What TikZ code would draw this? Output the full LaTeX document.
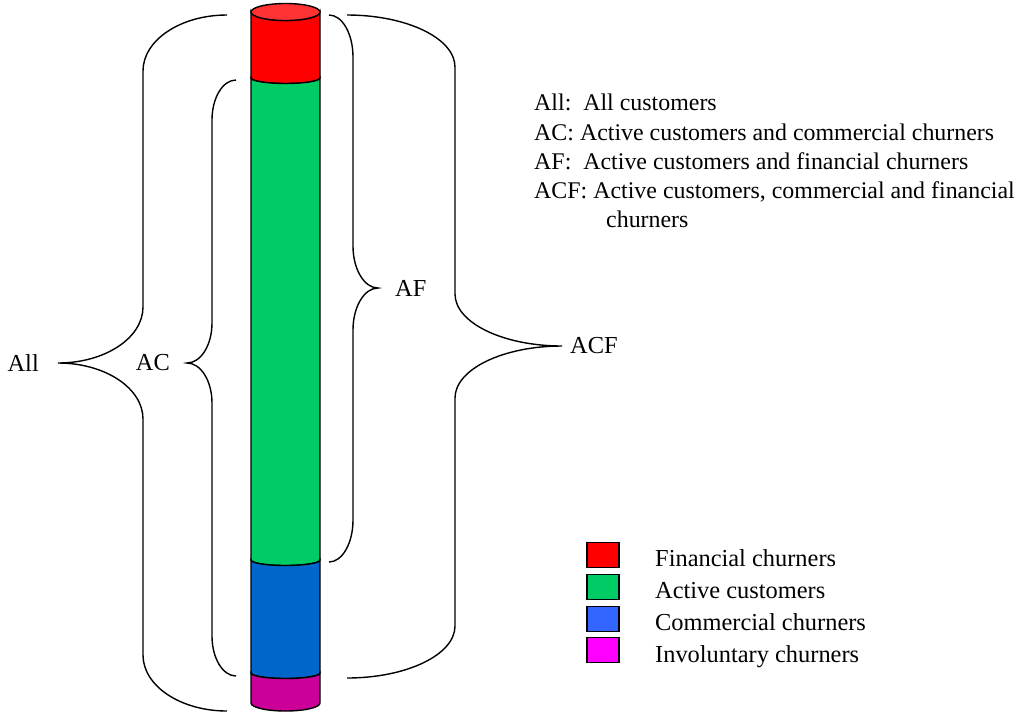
\documentclass[tikz,border=0pt]{standalone}
\usepackage{fontspec}
\setmainfont{Liberation Serif}
\usetikzlibrary{positioning}
\definecolor{finred}{HTML}{FF0000}
\definecolor{capred}{HTML}{FF3333}
\definecolor{actgreen}{HTML}{00CC66}
\definecolor{comblue}{HTML}{0066CC}
\definecolor{keyblue}{HTML}{3366FF}
\definecolor{invmag}{HTML}{CC0099}
\definecolor{keymag}{HTML}{FF00FF}
\begin{document}
\begin{tikzpicture}[x=1pt,y=1pt,font=\fontsize{24.4}{29}\selectfont]
\tikzstyle{cyl}=[draw=black,line width=1.4pt];
\tikzstyle{brace}=[draw,line width=1.4pt];
\tikzstyle{lab}=[inner sep=0pt];
\tikzstyle{legbox}=[draw,line width=1.8pt,minimum width=32pt,minimum height=25pt,inner sep=0pt];
\tikzstyle{legtext}=[anchor=base west,inner sep=0pt];
\tikzstyle{keytext}=[legtext,font=\fontsize{23.9}{29}\selectfont];
\useasboundingbox (0,0) rectangle (1017,-713);
% cylinder
\draw [cyl,fill=finred] (251,-12) -- (251,-78) arc[start angle=180,end angle=360,x radius=34.5pt,y radius=5.5pt] -- (320,-12) arc[start angle=0,end angle=-180,x radius=34.5pt,y radius=8.5pt] -- cycle;
\draw [cyl,fill=actgreen] (251,-78) -- (251,-560) arc[start angle=180,end angle=360,x radius=34.5pt,y radius=5.5pt] -- (320,-78) arc[start angle=0,end angle=-180,x radius=34.5pt,y radius=5.5pt] -- cycle;
\draw [cyl,fill=comblue] (251,-560) -- (251,-673) arc[start angle=180,end angle=360,x radius=34.5pt,y radius=5.5pt] -- (320,-560) arc[start angle=0,end angle=-180,x radius=34.5pt,y radius=5.5pt] -- cycle;
\draw [cyl,fill=invmag] (251,-673) -- (251,-703) arc[start angle=180,end angle=360,x radius=34.5pt,y radius=8pt] -- (320,-673) arc[start angle=0,end angle=-180,x radius=34.5pt,y radius=5.5pt] -- cycle;
\draw [cyl,fill=capred] (285.5,-12) ellipse[x radius=34.5pt,y radius=8.5pt];
% braces
\coordinate (tipAll) at (58,-363);
\coordinate (tipAC) at (187,-363);
\coordinate (tipAF) at (378,-288);
\coordinate (tipACF) at (562,-346);
\draw [brace] (227,-15) arc[start angle=90,end angle=180,x radius=84pt,y radius=56pt] -- (143,-307) arc[start angle=0,end angle=-90,x radius=85pt,y radius=56pt] arc[start angle=90,end angle=0,x radius=85pt,y radius=56pt] -- (143,-655) arc[start angle=180,end angle=270,x radius=84pt,y radius=56pt];
\draw [brace] (236,-80) arc[start angle=90,end angle=180,x radius=24pt,y radius=40pt] -- (212,-323) arc[start angle=0,end angle=-90,x radius=25pt,y radius=40pt] arc[start angle=90,end angle=0,x radius=25pt,y radius=40pt] -- (212,-636) arc[start angle=180,end angle=270,x radius=24pt,y radius=40pt];
\draw [brace] (329,-15) arc[start angle=90,end angle=0,x radius=24pt,y radius=42pt] -- (353,-246) arc[start angle=180,end angle=270,x radius=25pt,y radius=42pt] arc[start angle=90,end angle=180,x radius=25pt,y radius=42pt] -- (353,-520) arc[start angle=0,end angle=-90,x radius=24pt,y radius=42pt];
\draw [brace] (347,-15) arc[start angle=90,end angle=0,x radius=108pt,y radius=52pt] -- (455,-294) arc[start angle=180,end angle=270,x radius=107pt,y radius=52pt] arc[start angle=90,end angle=180,x radius=107pt,y radius=52pt] -- (455,-626) arc[start angle=0,end angle=-90,x radius=108pt,y radius=52pt];
\node [lab,left=19pt of tipAll] (labAll) {All};
\node [lab,left=17pt of tipAC] (labAC) {AC};
\node [lab,right=17pt of tipAF] (labAF) {AF};
\node [lab,right=8pt of tipACF] (labACF) {ACF};
% key
\node [keytext] (key1) at (534,-110) {All:\ \ All customers};
\node [keytext] (key2) at (534,-140) {AC:\ Active customers and commercial churners};
\node [keytext] (key3) at (534,-169) {AF:\ \ Active customers and financial churners};
\node [keytext] (key4) at (534,-198) {ACF: Active customers, commercial and financial};
\node [keytext] (key5) at (606,-227) {churners};
% legend
\node [legbox,fill=finred] (boxF) at (603,-555) {};
\node [legbox,fill=actgreen] (boxA) at (603,-587) {};
\node [legbox,fill=keyblue] (boxC) at (603,-619) {};
\node [legbox,fill=keymag] (boxI) at (603,-650) {};
\node [legtext] (txtF) at (655,-566) {Financial churners};
\node [legtext] (txtA) at (655,-598) {Active customers};
\node [legtext] (txtC) at (655,-630) {Commercial churners};
\node [legtext] (txtI) at (655,-662) {Involuntary churners};
\end{tikzpicture}
\end{document}
